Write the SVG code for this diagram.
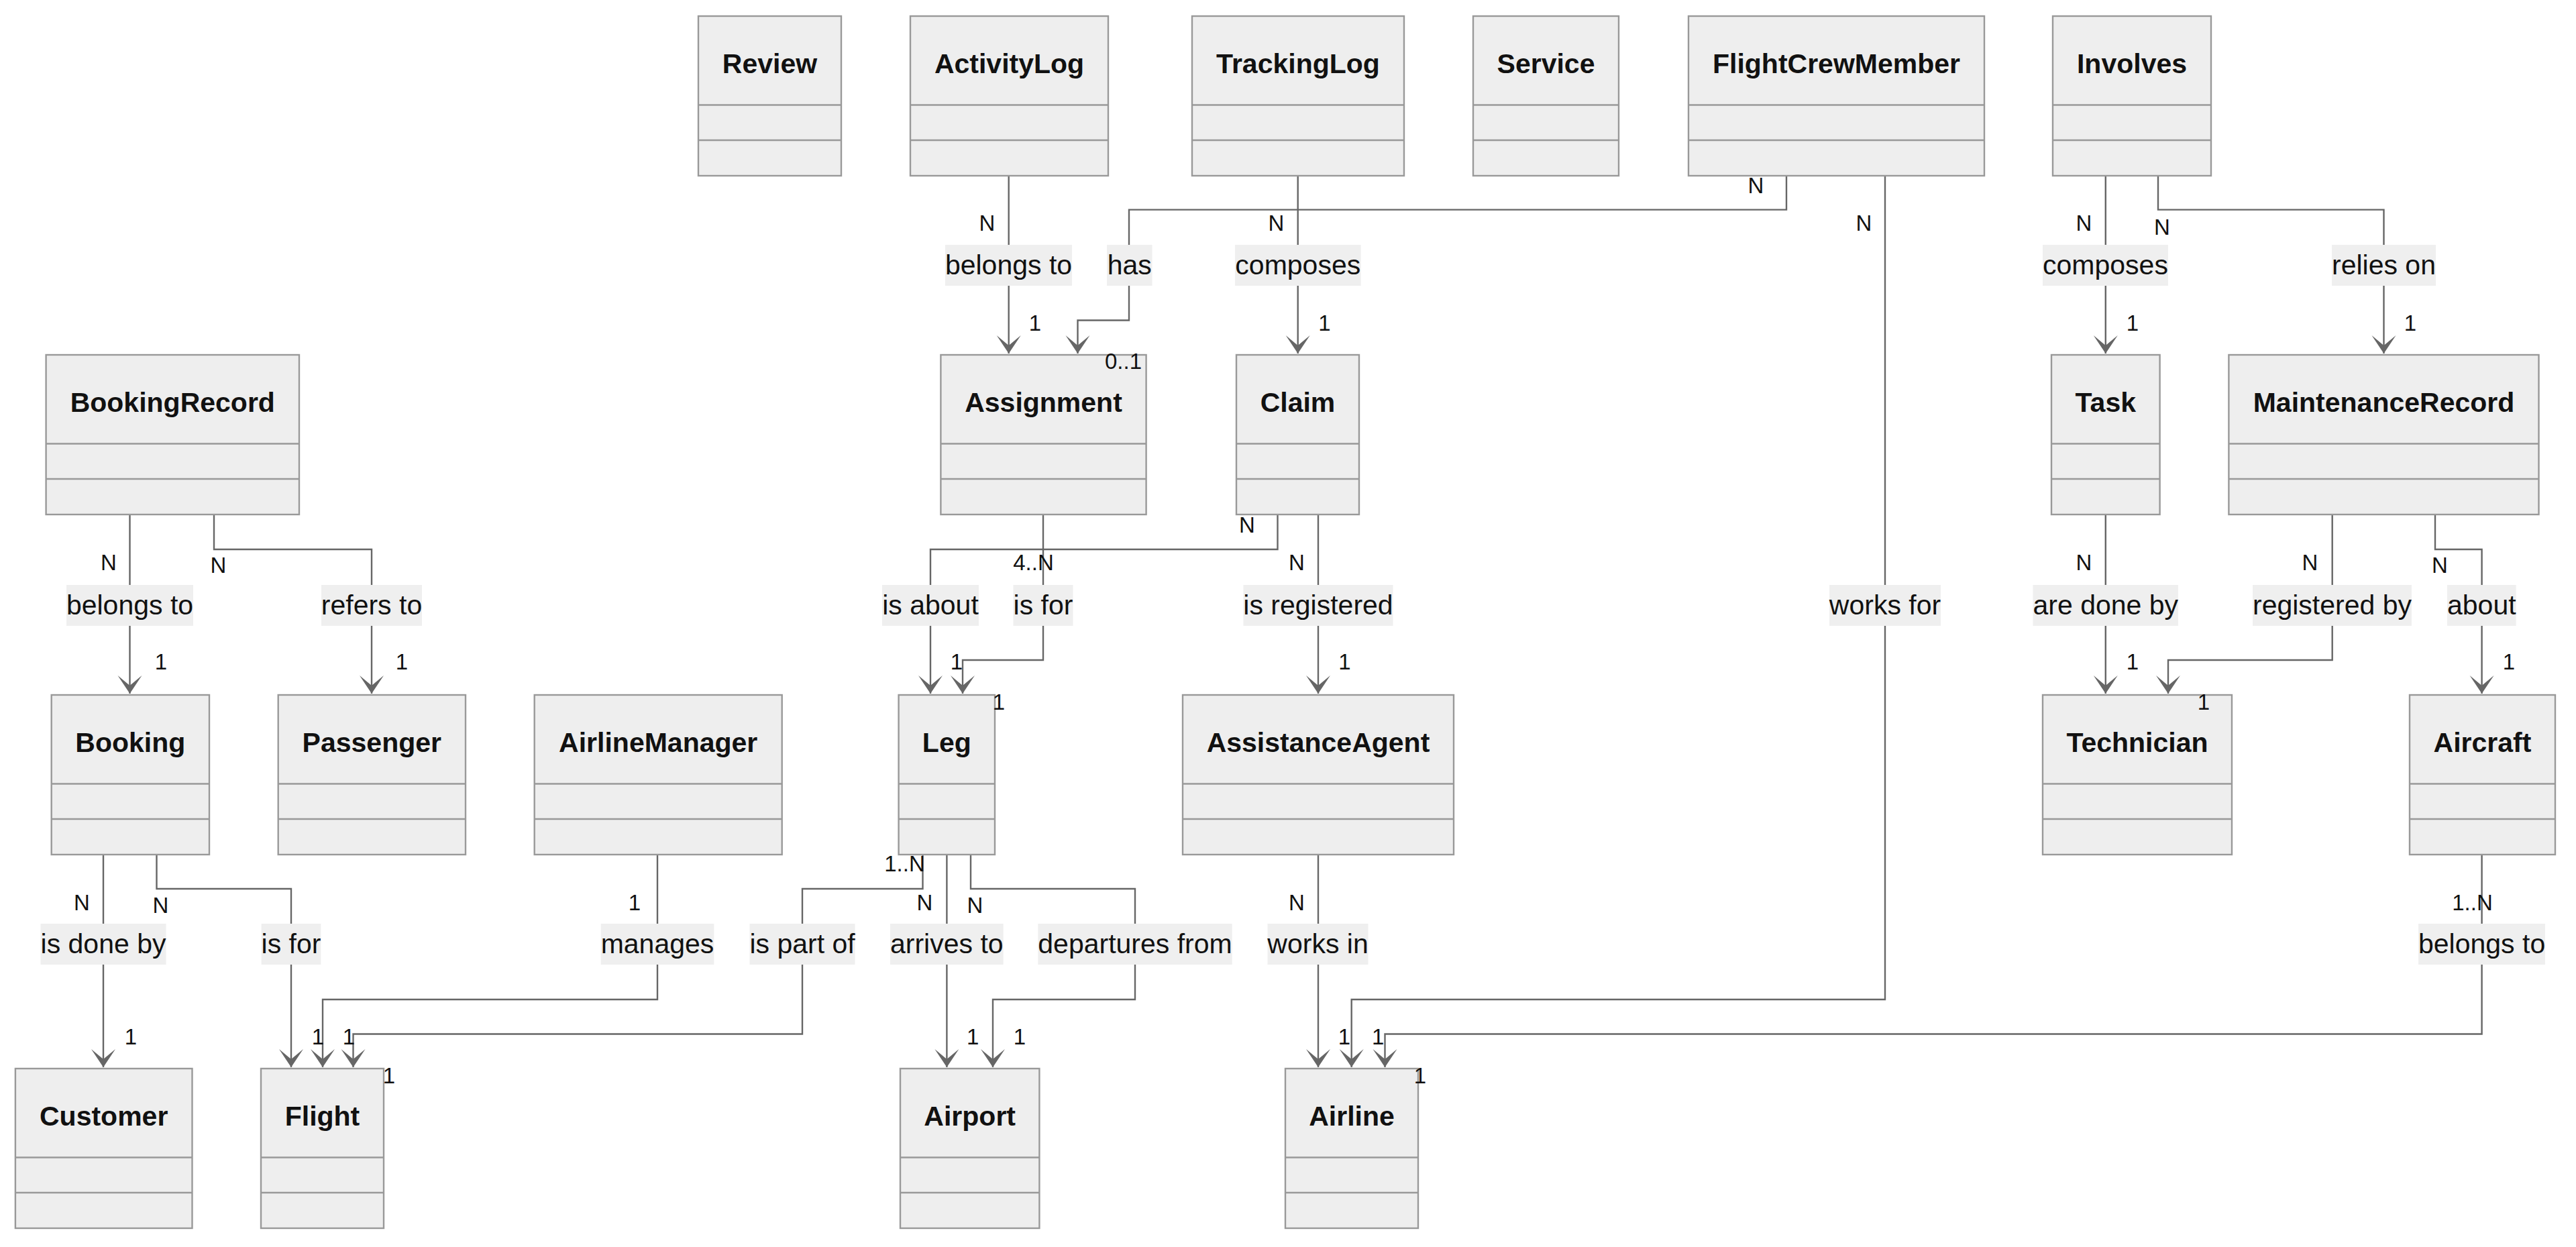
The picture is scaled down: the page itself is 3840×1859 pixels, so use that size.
<svg xmlns="http://www.w3.org/2000/svg" width="3840" height="1859" viewBox="0 0 3840 1859">
<style>
.box{fill:#eeeeee;stroke:#999999;stroke-width:2.4}
.div{stroke:#999999;stroke-width:2.4}
.title{font-family:"Liberation Sans",Arial,sans-serif;font-weight:bold;font-size:41px;fill:#111111;text-anchor:middle}
.edge{fill:none;stroke:#666666;stroke-width:2.4}
.lbg{fill:#efefef}
.lbl{font-family:"Liberation Sans",Arial,sans-serif;font-size:41px;fill:#111111;text-anchor:middle}
.card{font-family:"Liberation Sans",Arial,sans-serif;font-size:33px;fill:#111111;text-anchor:middle}
</style>
<defs>
<marker id="arr" markerUnits="userSpaceOnUse" markerWidth="40" markerHeight="40" viewBox="-30 -20 32 40" refX="0" refY="0" orient="auto">
<path d="M0,0 L-27,-18 L-12,0 L-27,18 Z" fill="#666666"/>
</marker>
</defs>
<rect width="3840" height="1859" fill="#ffffff"/>

<g id="connectors">
<path class="edge" d="M1503.7,262 V527" marker-end="url(#arr)"/>
<path class="edge" d="M2663,262 V312.6 H1683 V477.5 H1606.5 V527" marker-end="url(#arr)"/>
<path class="edge" d="M1934.7,262 V527" marker-end="url(#arr)"/>
<path class="edge" d="M2810,262 V1490 H2014.7 V1591" marker-end="url(#arr)"/>
<path class="edge" d="M3138.8,262 V527" marker-end="url(#arr)"/>
<path class="edge" d="M3217,262 V312.6 H3553.5 V527" marker-end="url(#arr)"/>
<path class="edge" d="M193.5,767 V1034" marker-end="url(#arr)"/>
<path class="edge" d="M319,767 V819 H554 V1034" marker-end="url(#arr)"/>
<path class="edge" d="M1555,767 V984 H1435 V1034" marker-end="url(#arr)"/>
<path class="edge" d="M1904.5,767 V819 H1387 V1034" marker-end="url(#arr)"/>
<path class="edge" d="M1965,767 V1034" marker-end="url(#arr)"/>
<path class="edge" d="M3138.8,767 V1034" marker-end="url(#arr)"/>
<path class="edge" d="M3476.7,767 V984 H3232 V1034" marker-end="url(#arr)"/>
<path class="edge" d="M3630,767 V819 H3699.6 V1034" marker-end="url(#arr)"/>
<path class="edge" d="M154,1274 V1591" marker-end="url(#arr)"/>
<path class="edge" d="M233.5,1274 V1325 H434 V1591" marker-end="url(#arr)"/>
<path class="edge" d="M980,1274 V1490 H481 V1591" marker-end="url(#arr)"/>
<path class="edge" d="M1375.5,1274 V1325 H1196 V1541.5 H526.5 V1591" marker-end="url(#arr)"/>
<path class="edge" d="M1411.4,1274 V1591" marker-end="url(#arr)"/>
<path class="edge" d="M1447,1274 V1325 H1692 V1490 H1480 V1591" marker-end="url(#arr)"/>
<path class="edge" d="M1965,1274 V1591" marker-end="url(#arr)"/>
<path class="edge" d="M3699.6,1274 V1541.5 H2064.5 V1591" marker-end="url(#arr)"/>

<g id="edge-labels">
<rect class="lbg" x="1409" y="365" width="189" height="61"/><text class="lbl" x="1503.5" y="409">belongs to</text>
<rect class="lbg" x="1650" y="365" width="67.5" height="61"/><text class="lbl" x="1683.7" y="409">has</text>
<rect class="lbg" x="1841" y="365" width="187.6" height="61"/><text class="lbl" x="1934.8" y="409">composes</text>
<rect class="lbg" x="3045" y="365" width="187" height="61"/><text class="lbl" x="3138.5" y="409">composes</text>
<rect class="lbg" x="3476" y="365" width="155" height="61"/><text class="lbl" x="3553.5" y="409">relies on</text>

<rect class="lbg" x="99" y="872" width="189" height="61"/><text class="lbl" x="193.5" y="916">belongs to</text>
<rect class="lbg" x="479" y="872" width="150" height="61"/><text class="lbl" x="554" y="916">refers to</text>
<rect class="lbg" x="1315" y="872" width="144" height="61"/><text class="lbl" x="1387" y="916">is about</text>
<rect class="lbg" x="1510.5" y="872" width="89" height="61"/><text class="lbl" x="1555" y="916">is for</text>
<rect class="lbg" x="1853.5" y="872" width="223" height="61"/><text class="lbl" x="1965" y="916">is registered</text>
<rect class="lbg" x="2727" y="872" width="166" height="61"/><text class="lbl" x="2810" y="916">works for</text>
<rect class="lbg" x="3030.5" y="872" width="216.5" height="61"/><text class="lbl" x="3138.8" y="916">are done by</text>
<rect class="lbg" x="3358" y="872" width="237" height="61"/><text class="lbl" x="3476.5" y="916">registered by</text>
<rect class="lbg" x="3648" y="872" width="102.6" height="61"/><text class="lbl" x="3699.3" y="916">about</text>

<rect class="lbg" x="60.5" y="1377" width="187" height="61"/><text class="lbl" x="154" y="1421">is done by</text>
<rect class="lbg" x="389.6" y="1377" width="88.8" height="61"/><text class="lbl" x="434" y="1421">is for</text>
<rect class="lbg" x="895.7" y="1377" width="168.6" height="61"/><text class="lbl" x="980" y="1421">manages</text>
<rect class="lbg" x="1117.5" y="1377" width="157" height="61"/><text class="lbl" x="1196" y="1421">is part of</text>
<rect class="lbg" x="1327" y="1377" width="168.6" height="61"/><text class="lbl" x="1411.3" y="1421">arrives to</text>
<rect class="lbg" x="1547.3" y="1377" width="289.4" height="61"/><text class="lbl" x="1692" y="1421">departures from</text>
<rect class="lbg" x="1889.5" y="1377" width="150" height="61"/><text class="lbl" x="1964.5" y="1421">works in</text>
<rect class="lbg" x="3605" y="1377" width="189" height="61"/><text class="lbl" x="3699.6" y="1421">belongs to</text>
</g>
</g>

<g id="node-Review"><rect class="box" x="1041" y="24" width="213" height="238"/><line class="div" x1="1041" y1="156.5" x2="1254" y2="156.5"/><line class="div" x1="1041" y1="209" x2="1254" y2="209"/><text class="title" x="1147.5" y="108.5">Review</text></g>
<g id="node-ActivityLog"><rect class="box" x="1357" y="24" width="295" height="238"/><line class="div" x1="1357" y1="156.5" x2="1652" y2="156.5"/><line class="div" x1="1357" y1="209" x2="1652" y2="209"/><text class="title" x="1504.5" y="108.5">ActivityLog</text></g>
<g id="node-TrackingLog"><rect class="box" x="1777" y="24" width="316" height="238"/><line class="div" x1="1777" y1="156.5" x2="2093" y2="156.5"/><line class="div" x1="1777" y1="209" x2="2093" y2="209"/><text class="title" x="1935" y="108.5">TrackingLog</text></g>
<g id="node-Service"><rect class="box" x="2196" y="24" width="217" height="238"/><line class="div" x1="2196" y1="156.5" x2="2413" y2="156.5"/><line class="div" x1="2196" y1="209" x2="2413" y2="209"/><text class="title" x="2304.5" y="108.5">Service</text></g>
<g id="node-FlightCrewMember"><rect class="box" x="2517" y="24" width="441" height="238"/><line class="div" x1="2517" y1="156.5" x2="2958" y2="156.5"/><line class="div" x1="2517" y1="209" x2="2958" y2="209"/><text class="title" x="2737.5" y="108.5">FlightCrewMember</text></g>
<g id="node-Involves"><rect class="box" x="3060" y="24" width="236" height="238"/><line class="div" x1="3060" y1="156.5" x2="3296" y2="156.5"/><line class="div" x1="3060" y1="209" x2="3296" y2="209"/><text class="title" x="3178" y="108.5">Involves</text></g>

<g id="node-BookingRecord"><rect class="box" x="68.6" y="529" width="377.4" height="238"/><line class="div" x1="68.6" y1="661.5" x2="446" y2="661.5"/><line class="div" x1="68.6" y1="714" x2="446" y2="714"/><text class="title" x="257.3" y="613.5">BookingRecord</text></g>
<g id="node-Assignment"><rect class="box" x="1402.4" y="529" width="306.2" height="238"/><line class="div" x1="1402.4" y1="661.5" x2="1708.6" y2="661.5"/><line class="div" x1="1402.4" y1="714" x2="1708.6" y2="714"/><text class="title" x="1555.5" y="613.5">Assignment</text></g>
<g id="node-Claim"><rect class="box" x="1843" y="529" width="183" height="238"/><line class="div" x1="1843" y1="661.5" x2="2026" y2="661.5"/><line class="div" x1="1843" y1="714" x2="2026" y2="714"/><text class="title" x="1934.5" y="613.5">Claim</text></g>
<g id="node-Task"><rect class="box" x="3058" y="529" width="161.6" height="238"/><line class="div" x1="3058" y1="661.5" x2="3219.6" y2="661.5"/><line class="div" x1="3058" y1="714" x2="3219.6" y2="714"/><text class="title" x="3138.8" y="613.5">Task</text></g>
<g id="node-MaintenanceRecord"><rect class="box" x="3322.4" y="529" width="462.1" height="238"/><line class="div" x1="3322.4" y1="661.5" x2="3784.5" y2="661.5"/><line class="div" x1="3322.4" y1="714" x2="3784.5" y2="714"/><text class="title" x="3553.5" y="613.5">MaintenanceRecord</text></g>

<g id="node-Booking"><rect class="box" x="76.7" y="1036" width="235.3" height="238"/><line class="div" x1="76.7" y1="1168.5" x2="312" y2="1168.5"/><line class="div" x1="76.7" y1="1221" x2="312" y2="1221"/><text class="title" x="194.3" y="1120.5">Booking</text></g>
<g id="node-Passenger"><rect class="box" x="414.7" y="1036" width="279.3" height="238"/><line class="div" x1="414.7" y1="1168.5" x2="694" y2="1168.5"/><line class="div" x1="414.7" y1="1221" x2="694" y2="1221"/><text class="title" x="554.3" y="1120.5">Passenger</text></g>
<g id="node-AirlineManager"><rect class="box" x="796.7" y="1036" width="369" height="238"/><line class="div" x1="796.7" y1="1168.5" x2="1165.7" y2="1168.5"/><line class="div" x1="796.7" y1="1221" x2="1165.7" y2="1221"/><text class="title" x="981.2" y="1120.5">AirlineManager</text></g>
<g id="node-Leg"><rect class="box" x="1339.6" y="1036" width="143.4" height="238"/><line class="div" x1="1339.6" y1="1168.5" x2="1483" y2="1168.5"/><line class="div" x1="1339.6" y1="1221" x2="1483" y2="1221"/><text class="title" x="1411.3" y="1120.5">Leg</text></g>
<g id="node-AssistanceAgent"><rect class="box" x="1763" y="1036" width="404" height="238"/><line class="div" x1="1763" y1="1168.5" x2="2167" y2="1168.5"/><line class="div" x1="1763" y1="1221" x2="2167" y2="1221"/><text class="title" x="1965" y="1120.5">AssistanceAgent</text></g>
<g id="node-Technician"><rect class="box" x="3045" y="1036" width="282" height="238"/><line class="div" x1="3045" y1="1168.5" x2="3327" y2="1168.5"/><line class="div" x1="3045" y1="1221" x2="3327" y2="1221"/><text class="title" x="3186" y="1120.5">Technician</text></g>
<g id="node-Aircraft"><rect class="box" x="3592" y="1036" width="217" height="238"/><line class="div" x1="3592" y1="1168.5" x2="3809" y2="1168.5"/><line class="div" x1="3592" y1="1221" x2="3809" y2="1221"/><text class="title" x="3700.5" y="1120.5">Aircraft</text></g>

<g id="node-Customer"><rect class="box" x="22.9" y="1593" width="263.6" height="238"/><line class="div" x1="22.9" y1="1725.5" x2="286.5" y2="1725.5"/><line class="div" x1="22.9" y1="1778" x2="286.5" y2="1778"/><text class="title" x="154.7" y="1677.5">Customer</text></g>
<g id="node-Flight"><rect class="box" x="389" y="1593" width="183" height="238"/><line class="div" x1="389" y1="1725.5" x2="572" y2="1725.5"/><line class="div" x1="389" y1="1778" x2="572" y2="1778"/><text class="title" x="480.5" y="1677.5">Flight</text></g>
<g id="node-Airport"><rect class="box" x="1342" y="1593" width="207.4" height="238"/><line class="div" x1="1342" y1="1725.5" x2="1549.4" y2="1725.5"/><line class="div" x1="1342" y1="1778" x2="1549.4" y2="1778"/><text class="title" x="1445.7" y="1677.5">Airport</text></g>
<g id="node-Airline"><rect class="box" x="1916" y="1593" width="198" height="238"/><line class="div" x1="1916" y1="1725.5" x2="2114" y2="1725.5"/><line class="div" x1="1916" y1="1778" x2="2114" y2="1778"/><text class="title" x="2015" y="1677.5">Airline</text></g>

<g id="cardinalities">
<text class="card" x="1471.5" y="344">N</text>
<text class="card" x="1902.5" y="344">N</text>
<text class="card" x="2617.5" y="288">N</text>
<text class="card" x="2778.5" y="344">N</text>
<text class="card" x="3106.5" y="344">N</text>
<text class="card" x="3223" y="350">N</text>
<text class="card" x="1543" y="493">1</text>
<text class="card" x="1974.5" y="493">1</text>
<text class="card" x="3179" y="493">1</text>
<text class="card" x="3593" y="493">1</text>
<text class="card" x="1674.5" y="550">0..1</text>
<text class="card" x="162" y="850">N</text>
<text class="card" x="325.5" y="854">N</text>
<text class="card" x="1540.5" y="850">4..N</text>
<text class="card" x="1859" y="794">N</text>
<text class="card" x="1933" y="850">N</text>
<text class="card" x="3106.5" y="850">N</text>
<text class="card" x="3443.5" y="850">N</text>
<text class="card" x="3637" y="854">N</text>
<text class="card" x="240" y="998">1</text>
<text class="card" x="599" y="998">1</text>
<text class="card" x="1426" y="998">1</text>
<text class="card" x="1489" y="1057.5">1</text>
<text class="card" x="2004.5" y="998">1</text>
<text class="card" x="3179" y="998">1</text>
<text class="card" x="3285" y="1057.5">1</text>
<text class="card" x="3740" y="998">1</text>
<text class="card" x="122" y="1357">N</text>
<text class="card" x="239.5" y="1361">N</text>
<text class="card" x="946" y="1357">1</text>
<text class="card" x="1348.5" y="1299">1..N</text>
<text class="card" x="1378.3" y="1357">N</text>
<text class="card" x="1453.5" y="1361">N</text>
<text class="card" x="1933" y="1357">N</text>
<text class="card" x="3685.5" y="1357">1..N</text>
<text class="card" x="195" y="1557">1</text>
<text class="card" x="474" y="1557">1</text>
<text class="card" x="520" y="1557">1</text>
<text class="card" x="580" y="1615">1</text>
<text class="card" x="1450.3" y="1557">1</text>
<text class="card" x="1520" y="1557">1</text>
<text class="card" x="2004" y="1557">1</text>
<text class="card" x="2054.3" y="1557">1</text>
<text class="card" x="2117" y="1615">1</text>
</g>
</svg>
